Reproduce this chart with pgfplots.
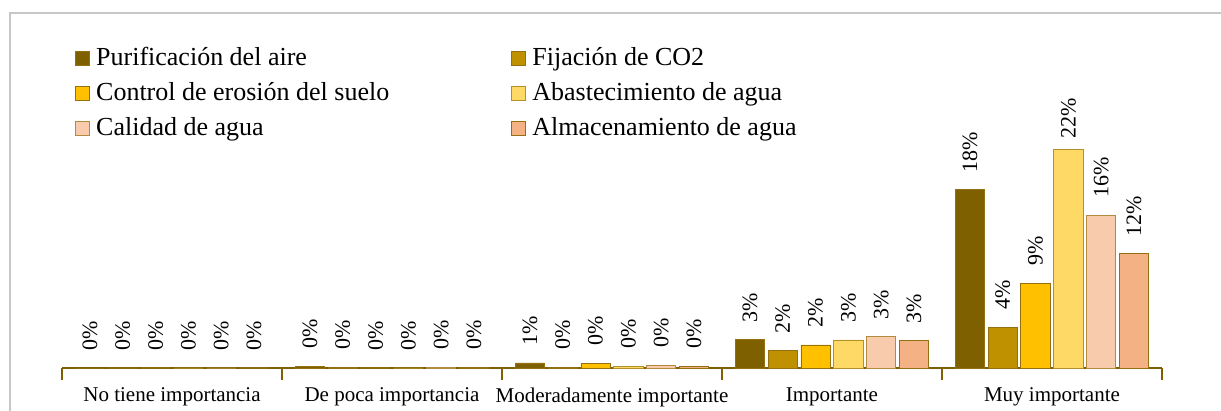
\documentclass[border=0pt]{standalone}
\usepackage{pgfplots}
\pgfplotsset{compat=1.18}
\usepackage{pgfplotstable}
\usepackage{fontspec}
\setmainfont{Liberation Serif}
\definecolor{c1}{HTML}{7F6000}
\definecolor{c2}{HTML}{BF9000}
\definecolor{c3}{HTML}{FFC000}
\definecolor{c4}{HTML}{FFD966}
\definecolor{c5}{HTML}{F8CBAD}
\definecolor{c6}{HTML}{F4B183}
\definecolor{edge}{HTML}{94700E}
\definecolor{axbrown}{HTML}{7F6000}

\pgfplotstableread{
x y lab gap
0 0 0 17
1 0.2 0 17
2 0.51 1 17
3 2.89 3 17
4 18.22 18 17
}\tA
\pgfplotstableread{
x y lab gap
0 0 0 17
1 0.1 0 17
2 0.1 0 17
3 1.77 2 17
4 4.18 4 17
}\tB
\pgfplotstableread{
x y lab gap
0 0 0 17
1 0 0 17
2 0.49 0 17
3 2.35 2 17
4 8.67 9 17
}\tC
\pgfplotstableread{
x y lab gap
0 0 0 17
1 0 0 17
2 0.2 0 17
3 2.86 3 17
4 22.31 22 10
}\tD
\pgfplotstableread{
x y lab gap
0 0 0 17
1 0.1 0 17
2 0.3 0 17
3 3.19 3 17
4 15.61 16 17
}\tE
\pgfplotstableread{
x y lab gap
0 0 0 17
1 0.1 0 17
2 0.2 0 17
3 2.79 3 17
4 11.66 12 17
}\tF

\begin{document}
\begin{tikzpicture}[x=1pt,y=1pt]
\useasboundingbox (0,0) rectangle (1221,411);
\draw[black!22, line width=1.3pt] (10,0) -- (10,398) -- (1221,398);
\begin{axis}[
  at={(62pt,43pt)}, anchor=south west,
  scale only axis, width=1100pt, height=294pt,
  xmin=-0.5, xmax=4.5, ymin=0, ymax=30,
  clip=false,
  axis y line=none,
  axis x line=bottom,
  x axis line style={-, draw=axbrown, line width=1.4pt},
  xtick={0,1,2,3,4},
  xticklabels={No tiene importancia, De poca importancia, Moderadamente importante, Importante, Muy importante},
  major tick length=0pt,
  minor xtick={-0.5,0.5,1.5,2.5,3.5,4.5},
  minor tick length=12pt,
  tick align=center,
  minor tick style={draw=axbrown, line width=1.3pt},
  xticklabel style={font=\fontsize{21}{25}\selectfont, yshift=-16pt},
  ybar=3.5pt, bar width=29.3pt,
  point meta=explicit symbolic,
  nodes near coords={\pgfplotspointmeta\%},
  visualization depends on={\thisrow{gap} \as \mygap},
  every node near coord/.append style={rotate=90, anchor=west, inner ysep=0pt, inner xsep=\mygap pt, font=\fontsize{22}{26}\selectfont, text=black},
  legend columns=2,
  legend cell align=left,
  legend image code/.code={\draw[#1, line width=1pt] (0pt,-6pt) rectangle (14pt,8pt);},
  legend style={draw=none, fill=none, inner sep=0pt, at={(axis description cs:0.0118,1.0895)}, anchor=north west,
    font=\fontsize{26}{30}\selectfont,
    nodes={inner sep=0pt, text height=18pt, text depth=6pt},
    row sep=10.7pt,
    /tikz/every odd column/.append style={column sep=6pt},
    /tikz/every even column/.append style={column sep=122pt}},
]
\addplot[fill=c1, draw=edge, line width=0.8pt] table[x=x,y=y,meta=lab] {\tA};
\addplot[fill=c2, draw=edge, line width=0.8pt] table[x=x,y=y,meta=lab] {\tB};
\addplot[fill=c3, draw=edge, line width=0.8pt] table[x=x,y=y,meta=lab] {\tC};
\addplot[fill=c4, draw=edge!70!c4, line width=0.8pt] table[x=x,y=y,meta=lab] {\tD};
\addplot[fill=c5, draw=edge!70!c5, line width=0.8pt] table[x=x,y=y,meta=lab] {\tE};
\addplot[fill=c6, draw=edge, line width=0.8pt] table[x=x,y=y,meta=lab] {\tF};
\legend{Purificación del aire, Fijación de CO2, Control de erosión del suelo, Abastecimiento de agua, Calidad de agua, Almacenamiento de agua}
\end{axis}
\end{tikzpicture}
\end{document}
